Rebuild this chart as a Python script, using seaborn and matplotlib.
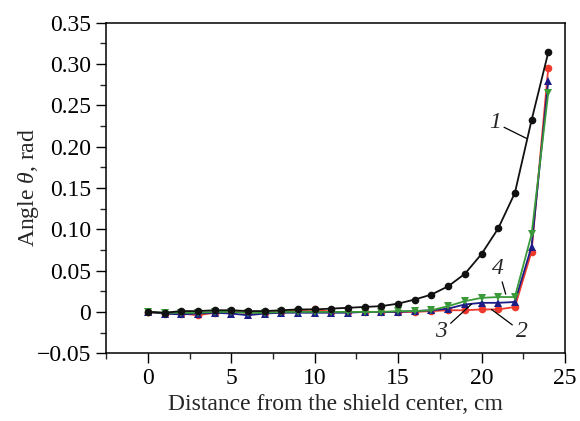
import numpy as np
import pandas as pd
import matplotlib
matplotlib.use("Agg")
import matplotlib.pyplot as plt
import seaborn as sns
from matplotlib.ticker import MultipleLocator

# ---- data ----
distance = list(range(0, 25))
curve1 = [0.000, -0.001, 0.001, 0.001, 0.002, 0.002, 0.001, 0.001, 0.002, 0.003,
          0.003, 0.004, 0.005, 0.006, 0.007, 0.010, 0.015, 0.021, 0.031, 0.046,
          0.070, 0.101, 0.144, 0.232, 0.314]
curve2 = [0.000, -0.002, -0.002, -0.004, -0.001, 0.000, -0.001, -0.001, 0.000, 0.002,
          0.003, 0.000, 0.000, 0.000, 0.000, 0.000, 0.000, 0.001, 0.002, 0.002,
          0.003, 0.003, 0.006, 0.073, 0.295]
curve3 = [0.000, -0.002, -0.003, -0.002, -0.001, -0.002, -0.004, -0.002, -0.001, -0.001,
          -0.001, -0.001, -0.001, 0.000, 0.000, 0.000, 0.001, 0.002, 0.004, 0.009,
          0.011, 0.011, 0.012, 0.079, 0.279]
curve4 = [0.000, -0.001, -0.001, -0.001, 0.000, 0.000, -0.001, -0.001, 0.000, 0.000,
          0.000, 0.000, 0.000, 0.000, 0.000, 0.001, 0.001, 0.002, 0.007, 0.013,
          0.017, 0.018, 0.018, 0.094, 0.265]
curve_names = ["1", "2", "3", "4"]
yticks = [-0.05, 0.0, 0.05, 0.10, 0.15, 0.20, 0.25, 0.30, 0.35]
ytick_labels = ["\u22120.05", "0", "0.05", "0.10", "0.15", "0.20", "0.25", "0.30", "0.35"]
xticks = [0, 5, 10, 15, 20, 25]
xlabel = "Distance from the shield center, cm"
ylabel = r"Angle $\theta$, rad"

sns.set_theme(style="ticks")
plt.rcParams["font.family"] = ["Liberation Serif", "DejaVu Serif"]
plt.rcParams["mathtext.fontset"] = "custom"
plt.rcParams["mathtext.rm"] = "Liberation Serif"
plt.rcParams["mathtext.it"] = "Liberation Serif:italic"

fig = plt.figure(figsize=(5.8, 4.21), dpi=100)
ax = fig.add_axes([0.183, 0.161, 0.791, 0.785])

styles = {
    "1": dict(color="#111111", marker="o"),
    "2": dict(color="#ee3a2c", marker="o"),
    "3": dict(color="#1c1c86", marker="^"),
    "4": dict(color="#3a9a3a", marker="v"),
}
series = {"1": curve1, "2": curve2, "3": curve3, "4": curve4}
for name in curve_names:
    df = pd.DataFrame({"x": distance, "y": series[name]})
    st = styles[name]
    sns.lineplot(data=df, x="x", y="y", ax=ax, color=st["color"], marker=st["marker"],
                 markersize=5.5, markeredgewidth=0, linewidth=1.3,
                 zorder=4 if name == "1" else 3)

ax.set_xlim(-2.5, 25)
ax.set_ylim(-0.05, 0.35)
ax.set_xticks(xticks)
ax.xaxis.set_minor_locator(MultipleLocator(2.5))
ax.set_yticks(yticks)
ax.set_yticklabels(ytick_labels)
ax.yaxis.set_minor_locator(MultipleLocator(0.025))
ax.tick_params(axis="both", which="major", direction="out", length=7, width=1.0,
               labelsize=17, colors="black", pad=4)
ax.tick_params(axis="both", which="minor", direction="out", length=4.3, width=1.0)
for s in ax.spines.values():
    s.set_linewidth(1.1)
    s.set_color("black")
ax.set_xlabel(xlabel, fontsize=17, labelpad=3)
ax.set_ylabel(ylabel, fontsize=17, labelpad=-3.5)

# curve labels
ann = dict(fontsize=17, style="italic", ha="center", va="center")
lp = dict(arrowstyle="-", color="black", lw=0.9, shrinkA=0, shrinkB=0)
ax.annotate("1", xy=(22.7, 0.210), xytext=(20.8, 0.229), arrowprops=lp, **ann)
ax.annotate("4", xy=(21.45, 0.0215), xytext=(21.0, 0.053), arrowprops=lp, **ann)
ax.annotate("3", xy=(19.4, 0.0094), xytext=(17.6, -0.024), arrowprops=lp, **ann)
ax.annotate("2", xy=(20.6, 0.003), xytext=(22.4, -0.024), arrowprops=lp, **ann)

fig.savefig("out.png", dpi=100)
